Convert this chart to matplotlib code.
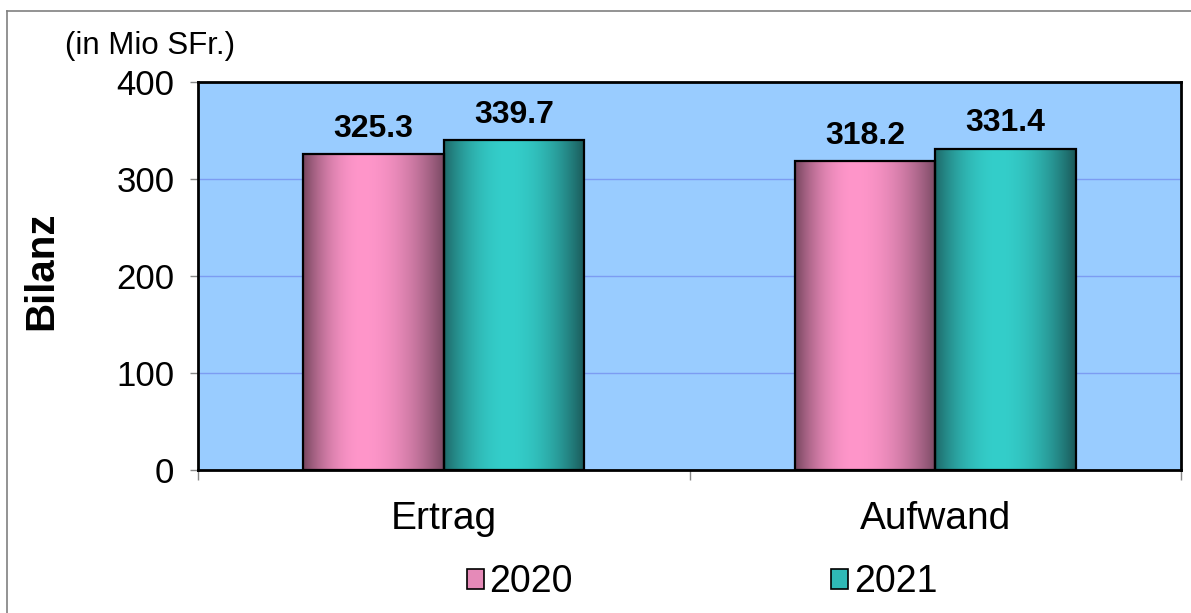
import numpy as np
import matplotlib
matplotlib.use("Agg")
import matplotlib.pyplot as plt
from matplotlib.patches import Rectangle, Patch
from matplotlib.colors import ListedColormap

categories = ["Ertrag", "Aufwand"]
years = ["2020", "2021"]
values_2020 = [325.3, 318.2]
values_2021 = [339.7, 331.4]
yticks = [0, 100, 200, 300, 400]

plt.rcParams['font.family'] = ['Liberation Sans', 'DejaVu Sans']

W, H = 1191, 613
fig = plt.figure(figsize=(W / 100, H / 100), dpi=100)
fig.patch.set_facecolor('white')

ax = fig.add_axes([198 / W, 1 - 470 / H, (1181 - 198) / W, (470 - 82) / H])
ax.set_facecolor('#99CCFF')
ax.set_xlim(-0.5, 1.5)
ax.set_ylim(0, 400)
ax.set_yticks(yticks)
ax.yaxis.grid(True, color='#7C9CF2', lw=1)
ax.set_axisbelow(True)
for s in ax.spines.values():
    s.set_color('black')
    s.set_linewidth(2)
    s.set_zorder(5)


def gradient_cmap(dark_l, light, dark_r, peak=0.42):
    t = np.linspace(0, 1, 256)
    cols = np.zeros((256, 3))
    for i, tt in enumerate(t):
        if tt <= peak:
            w = 1 - ((peak - tt) / peak) ** 2
            c = np.array(dark_l) + (np.array(light) - np.array(dark_l)) * w
        else:
            w = 1 - ((tt - peak) / (1 - peak)) ** 2
            c = np.array(dark_r) + (np.array(light) - np.array(dark_r)) * w
        cols[i] = c / 255.0
    return ListedColormap(cols)


cmap_pink = gradient_cmap((118, 70, 94), (255, 150, 202), (122, 74, 100), 0.42)
cmap_teal = gradient_cmap((30, 105, 105), (52, 206, 202), (26, 88, 88), 0.45)

bw = 0.286
series = [(values_2020, cmap_pink, -bw / 2), (values_2021, cmap_teal, bw / 2)]
grad = np.linspace(0, 1, 256).reshape(1, -1)
for vals, cmap, off in series:
    for i, v in enumerate(vals):
        x0 = i + off - bw / 2
        ax.imshow(grad, cmap=cmap, extent=[x0, x0 + bw, 0, v], aspect='auto',
                  zorder=2, interpolation='bilinear')
        ax.add_patch(Rectangle((x0, 0), bw, v, fill=False, ec='black', lw=1.6, zorder=3))
        ax.text(i + off, v + 11, f"{v:.1f}", ha='center', va='bottom',
                fontsize=23, fontweight='bold', zorder=4)

ax.set_xlim(-0.5, 1.5)
ax.set_ylim(0, 400)

ax.set_xticks([0, 1])
ax.set_xticklabels(categories, fontsize=28)
ax.set_xticks([-0.5, 0.5, 1.5], minor=True)
ax.tick_params(axis='x', which='major', length=0, pad=22)
ax.tick_params(axis='x', which='minor', length=7, color='#888888', width=1)
ax.tick_params(axis='y', labelsize=25, length=6, color='#888888', width=1, pad=11)

fig.text(150 / W, 1 - 46 / H, "(in Mio SFr.)", ha='center', va='center', fontsize=22.5)
fig.text(41 / W, 1 - 271 / H, "Bilanz", ha='center', va='center', fontsize=29,
         fontweight='bold', rotation=90)

handles = [Patch(facecolor='#E58AB8', edgecolor='black', lw=1.2),
           Patch(facecolor='#2FB9B6', edgecolor='black', lw=1.2)]
fig.legend(handles, years, loc='center', bbox_to_anchor=(702 / W, 1 - 582 / H),
           ncol=2, frameon=False, fontsize=27, handlelength=0.45, handleheight=0.45,
           handletextpad=0.15, columnspacing=6.9)

# outer frame (top and left lines)
fig.add_artist(plt.Line2D([7 / W, 1], [1 - 11 / H, 1 - 11 / H], color='#808080', lw=1.2,
                          transform=fig.transFigure))
fig.add_artist(plt.Line2D([7 / W, 7 / W], [1 - 11 / H, 0], color='#808080', lw=1.2,
                          transform=fig.transFigure))

fig.savefig("out.png", dpi=100)
